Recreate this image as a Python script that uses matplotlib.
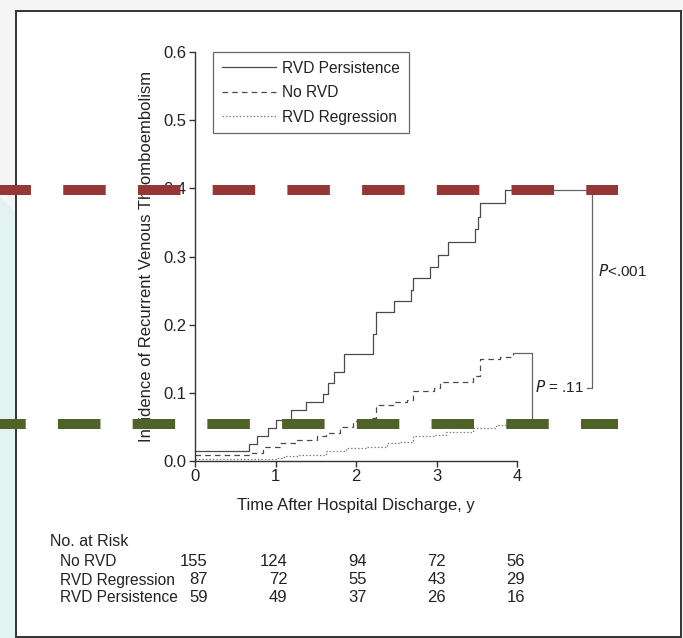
import numpy as np
import matplotlib
matplotlib.use('Agg')
import matplotlib.pyplot as plt
import matplotlib.transforms as mtransforms
from matplotlib.patches import Rectangle, Polygon
from matplotlib.lines import Line2D

plt.rcParams['font.family'] = ['Liberation Sans Narrow', 'Liberation Sans', 'DejaVu Sans']
plt.rcParams['lines.scale_dashes'] = False

# step curves (years, cumulative incidence)
persist_t = [0, 0.674, 0.773, 0.90, 1.005, 1.19, 1.377, 1.59, 1.65, 1.72, 1.85, 2.21, 2.25,
             2.47, 2.68, 2.70, 2.915, 3.02, 3.14, 3.47, 3.51, 3.54, 3.85, 3.95]
persist_y = [0.015, 0.025, 0.037, 0.049, 0.060, 0.075, 0.087, 0.099, 0.114, 0.130, 0.157, 0.187, 0.218,
             0.234, 0.251, 0.269, 0.285, 0.302, 0.322, 0.341, 0.358, 0.378, 0.398, 0.398]
norvd_t = [0, 0.70, 0.85, 1.05, 1.26, 1.51, 1.63, 1.80, 1.96, 2.19, 2.25, 2.46, 2.63,
           2.71, 2.96, 3.04, 3.45, 3.54, 3.78, 3.95]
norvd_y = [0.009, 0.012, 0.021, 0.026, 0.031, 0.036, 0.041, 0.050, 0.058, 0.063, 0.082, 0.087, 0.089,
           0.103, 0.107, 0.116, 0.124, 0.149, 0.153, 0.159]
regr_t = [0, 1.01, 1.10, 1.26, 1.63, 1.88, 2.13, 2.38, 2.54, 2.71, 2.96, 3.12, 3.45, 3.74, 3.95]
regr_y = [0.0025, 0.005, 0.007, 0.009, 0.014, 0.019, 0.021, 0.026, 0.028, 0.036, 0.038, 0.043,
          0.048, 0.053, 0.054]

# number at risk table
risk_groups = ['No RVD', 'RVD Regression', 'RVD Persistence']
risk_times = [0, 1, 2, 3, 4]
risk_counts = [[155, 124, 94, 72, 56],
               [87, 72, 55, 43, 29],
               [59, 49, 37, 26, 16]]

# overlaid reference lines
red_level = 0.398
green_level = 0.054

W, H = 683, 638
fig = plt.figure(figsize=(W / 100, H / 100), dpi=100)
fig.patch.set_facecolor('white')

def fx(px):
    return px / W

def fy(py):
    return 1 - py / H

# page background outside the framed box
fig.patches.append(Rectangle((0, 0), 1, 1, transform=fig.transFigure, facecolor='#f5f5f5',
                             edgecolor='none', zorder=-3))
fig.patches.append(Polygon([(0, fy(197)), (fx(16), fy(213)), (fx(16), 0), (0, 0)],
                           closed=True, transform=fig.transFigure, facecolor='#e2f3f2',
                           edgecolor='none', zorder=-2))
fig.patches.append(Rectangle((fx(16), fy(637)), fx(665), 626 / H, transform=fig.transFigure,
                             facecolor='white', edgecolor='#333333', lw=1.4, zorder=-1))

ax = fig.add_axes([fx(195), fy(461), fx(517.3 - 195), (461 - 52) / H])
ax.set_facecolor('none')
ink = '#222222'
line_c = '#4a4a4a'

ax.plot(persist_t, persist_y, drawstyle='steps-post', color=line_c, lw=0.9,
        label='RVD Persistence', clip_on=False)
ax.plot(norvd_t, norvd_y, drawstyle='steps-post', color=line_c, lw=0.9,
        linestyle=(0, (4, 3)), label='No RVD', clip_on=False)
ax.plot(regr_t, regr_y, drawstyle='steps-post', color='#777777', lw=0.9,
        linestyle=(0, (1, 1.5)), label='RVD Regression', clip_on=False)

# P-value brackets
end_t = persist_t[-1]
ax.plot([end_t, 4.93, 4.93, 4.86], [persist_y[-1], persist_y[-1], 0.107, 0.107],
        color='#666666', lw=0.9, clip_on=False)
ax.plot([end_t, 4.185, 4.185], [norvd_y[-1], norvd_y[-1], regr_y[-1]],
        color='#666666', lw=0.9, clip_on=False)
ax.plot([end_t, 4.185], [regr_y[-1], regr_y[-1]], color='#888888', lw=0.9,
        linestyle=(0, (1, 1.5)), clip_on=False)
ax.text(5.0, 0.279, r'$\it{P}$<.001', fontsize=11, color=ink, va='center', ha='left')
ax.text(4.22, 0.109, r'$\it{P}$ = .11', fontsize=11, color=ink, va='center', ha='left')

ax.set_xlim(0, 4)
ax.set_ylim(0, 0.6)
ax.set_xticks([0, 1, 2, 3, 4])
ax.set_yticks(np.arange(0, 0.61, 0.1))
ax.set_yticklabels([f'{v:.1f}' for v in np.arange(0, 0.61, 0.1)])
for s in ['top', 'right']:
    ax.spines[s].set_visible(False)
for s in ['left', 'bottom']:
    ax.spines[s].set_color('#333333')
    ax.spines[s].set_linewidth(1.0)
ax.tick_params(direction='out', length=4, width=1.0, color='#333333', labelsize=12,
               labelcolor=ink, pad=2)
ax.set_xlabel('Time After Hospital Discharge, y', fontsize=12, color=ink, labelpad=10)
ax.set_ylabel('Incidence of Recurrent Venous Thromboembolism', fontsize=12, color=ink, labelpad=7)

leg = ax.legend(loc='upper left', bbox_to_anchor=(fx(213), fy(52)), bbox_transform=fig.transFigure,
                fontsize=11.2, frameon=True, fancybox=False, handlelength=3.5, handletextpad=0.4,
                labelspacing=0.62, borderpad=0.55, borderaxespad=0)
leg.get_frame().set_edgecolor('#444444')
leg.get_frame().set_linewidth(0.9)
for t in leg.get_texts():
    t.set_color(ink)

# number at risk
fig.text(fx(50), fy(541), 'No. at Risk', fontsize=11.5, color=ink, va='center', ha='left')
row_y = [562, 580, 598]
tr = mtransforms.blended_transform_factory(ax.transData, fig.transFigure)
for name, counts, py in zip(risk_groups, risk_counts, row_y):
    fig.text(fx(60), fy(py), name, fontsize=11.2, color=ink, va='center', ha='left')
    for t, c in zip(risk_times, counts):
        ax.text(t + 0.16 - 0.015 * t, fy(py), str(c), transform=tr, fontsize=12, color=ink,
                va='center', ha='right')

# overlaid dashed reference lines spanning the figure (sizes in points at 100 dpi)
btr = mtransforms.blended_transform_factory(fig.transFigure, ax.transData)
ax.add_line(Line2D([0, fx(618)], [red_level, red_level], transform=btr, color='#953735',
                   lw=7.2, linestyle=(11.5 * 0.72, (30.6, 23.2)),
                   solid_capstyle='butt', dash_capstyle='butt', clip_on=False, zorder=5))
ax.add_line(Line2D([0, fx(618)], [green_level, green_level], transform=btr, color='#4f6228',
                   lw=7.2, linestyle=(16.8 * 0.72, (30.6, 23.2)),
                   solid_capstyle='butt', dash_capstyle='butt', clip_on=False, zorder=5))

fig.savefig('out.png', dpi=100)
